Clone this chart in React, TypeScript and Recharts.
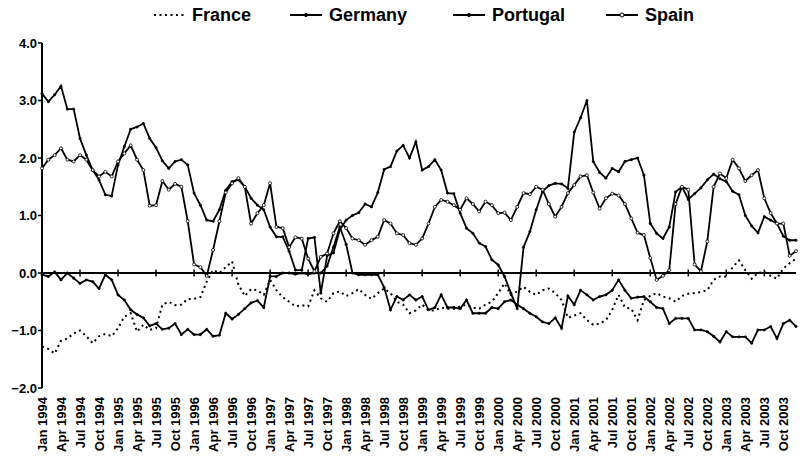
import React from 'react';
import { LineChart, Line, XAxis, YAxis, ReferenceLine, Legend } from 'recharts';

const MONTHS = ['Jan', 'Feb', 'Mar', 'Apr', 'May', 'Jun', 'Jul', 'Aug', 'Sep', 'Oct', 'Nov', 'Dec'];
const YEARS = [1994, 1995, 1996, 1997, 1998, 1999, 2000, 2001, 2002, 2003];
const Y_TICKS = [-2, -1, 0, 1, 2, 3, 4];
const SERIES_NAMES = ['France', 'Germany', 'Portugal', 'Spain'];
const LEGEND_ITEM_WIDTHS = [137, 163, 153, 100];

const france = [
  -1.28, -1.32, -1.4, -1.18, -1.14, -1.05, -1.0, -1.1, -1.22, -1.1, -1.06, -1.1,
  -0.96, -0.76, -0.7, -1.02, -0.9, -0.99, -0.96, -0.55, -0.5, -0.56, -0.55, -0.45,
  -0.45, -0.42, -0.15, 0.05, 0.0, 0.1, 0.2, -0.2, -0.4, -0.28, -0.3, -0.38,
  -0.12, -0.3, -0.42, -0.5, -0.58, -0.56, -0.58, -0.3, -0.44, -0.5, -0.35, -0.32,
  -0.4, -0.35, -0.28, -0.38, -0.45, -0.35, -0.27, -0.35, -0.5, -0.55, -0.7, -0.65,
  -0.55, -0.65, -0.65, -0.6, -0.62, -0.62, -0.58, -0.55, -0.6, -0.62, -0.55, -0.5,
  -0.35, -0.18, -0.38, -0.32, -0.24, -0.33, -0.38, -0.3, -0.27, -0.35, -0.47, -0.78,
  -0.74, -0.7, -0.82, -0.9, -0.88, -0.82, -0.64, -0.38, -0.6, -0.62, -0.82, -0.47,
  -0.4, -0.35, -0.41, -0.44, -0.5, -0.4, -0.36, -0.35, -0.33, -0.3, -0.12, -0.06,
  -0.06, 0.1, 0.22, 0.05, -0.1, 0.0, 0.02, -0.05, -0.1, 0.08, 0.17, 0.25,
];

const germany = [
  -0.03, -0.06, 0.02, -0.12, 0.0, -0.09, -0.18, -0.12, -0.15, -0.27, -0.03, -0.12,
  -0.38, -0.47, -0.64, -0.72, -0.78, -0.92, -0.88, -0.98, -0.96, -0.88, -1.07, -0.98,
  -1.07, -1.07, -0.98, -1.1, -1.08, -0.7, -0.8, -0.72, -0.62, -0.52, -0.48, -0.6,
  -0.06, -0.06, 0.0, 0.0, -0.02, 0.0, -0.02, 0.0, 0.0, 0.12, 0.45, 0.8,
  0.5, 0.0, -0.03, -0.03, -0.03, -0.03, -0.25, -0.64, -0.41, -0.47, -0.38, -0.47,
  -0.41, -0.64, -0.6, -0.38, -0.6, -0.6, -0.62, -0.47, -0.7, -0.7, -0.7, -0.6,
  -0.62, -0.5, -0.47, -0.55, -0.62, -0.7, -0.76, -0.85, -0.88, -0.78, -0.96, -0.4,
  -0.55, -0.3, -0.38, -0.47, -0.41, -0.38, -0.3, -0.12, -0.3, -0.44, -0.42, -0.41,
  -0.5, -0.6, -0.62, -0.88, -0.79, -0.79, -0.79, -0.99, -0.99, -1.02, -1.1, -1.2,
  -1.02, -1.11, -1.11, -1.11, -1.22, -0.99, -0.99, -0.93, -1.14, -0.88, -0.82, -0.93,
];

const portugal = [
  3.12, 2.98, 3.1, 3.25, 2.85, 2.85, 2.34, 2.05, 1.79, 1.62, 1.36, 1.34,
  1.88, 2.2, 2.5, 2.54, 2.6, 2.34, 2.18, 1.95, 1.82, 1.94, 1.97, 1.88,
  1.39, 1.18, 0.92, 0.9, 1.1, 1.44, 1.59, 1.62, 1.5, 1.3, 1.18, 1.1,
  0.8, 0.63, 0.63, 0.38, 0.05, 0.05, 0.6, 0.62, -0.35, 0.3, 0.35, 0.75,
  0.92, 1.0, 1.05, 1.2, 1.15, 1.4, 1.8, 1.85, 2.12, 2.22, 2.0, 2.28,
  1.79, 1.85, 1.97, 1.79, 1.39, 1.38, 1.04, 0.78, 0.69, 0.52, 0.46, 0.23,
  0.14, -0.06, -0.35, -0.62, 0.45, 0.72, 1.1, 1.42, 1.52, 1.56, 1.55, 1.47,
  2.45, 2.7, 3.0, 1.94, 1.75, 1.65, 1.82, 1.76, 1.94, 1.97, 2.0, 1.7,
  0.86, 0.69, 0.6, 0.8, 1.41, 1.5, 1.28, 1.38, 1.48, 1.62, 1.72, 1.64,
  1.59, 1.42, 1.36, 1.0, 0.82, 0.7, 0.98, 0.92, 0.86, 0.64, 0.57, 0.57,
];

const spain = [
  1.82, 1.97, 2.05, 2.17, 1.97, 1.94, 2.05, 1.97, 1.79, 1.68, 1.76, 1.68,
  1.94, 2.08, 2.22, 1.97, 1.79, 1.17, 1.18, 1.6, 1.45, 1.55, 1.5, 0.9,
  0.15, 0.1, -0.05, 0.4, 0.9, 1.4, 1.56, 1.65, 1.5, 0.86, 1.04, 1.18,
  1.56, 0.8, 0.78, 0.45, 0.62, 0.6, 0.25, 0.03, 0.28, 0.34, 0.69, 0.9,
  0.78, 0.6, 0.57, 0.49, 0.57, 0.63, 0.92, 0.86, 0.69, 0.66, 0.52, 0.49,
  0.6, 0.86, 1.15, 1.27, 1.24, 1.18, 1.1, 1.3, 1.2, 1.07, 1.24, 1.18,
  1.04, 1.05, 0.92, 1.15, 1.39, 1.37, 1.5, 1.45, 1.2, 0.98, 1.15, 1.39,
  1.53, 1.68, 1.7, 1.4, 1.12, 1.3, 1.38, 1.35, 1.2, 0.95, 0.7, 0.66,
  0.26, -0.12, -0.05, 0.05, 1.2, 1.5, 1.45, 0.15, 0.03, 0.55, 1.5, 1.73,
  1.65, 1.97, 1.82, 1.6, 1.7, 1.79, 1.3, 1.04, 0.86, 0.86, 0.3, 0.38,
];

const categories: string[] = [];
YEARS.forEach((y) => MONTHS.forEach((m) => categories.push(`${m} ${y}`)));

const data = categories.map((c, i) => ({
  month: c,
  France: france[i],
  Germany: germany[i],
  Portugal: portugal[i],
  Spain: spain[i],
}));

const halfYearMarks = categories.filter(
  (c, i) => i > 0 && (c.startsWith('Jan') || c.startsWith('Jul'))
);

const FONT = '"Liberation Sans", Arial, Helvetica, sans-serif';

const fmtY = (v: number) => (v < 0 ? '\u2212' + Math.abs(v).toFixed(1) : v.toFixed(1));

const RotTick = (props: any) => {
  const { x, y, payload } = props;
  return (
    <text
      transform={`translate(${x},${y + 1}) rotate(-90)`}
      textAnchor="end"
      dominantBaseline="central"
      fontSize={13}
      fontWeight="bold"
      fontFamily={FONT}
      fill="#000"
    >
      {payload.value}
    </text>
  );
};

const LegendSample = ({ name }: { name: string }) => {
  if (name === 'France') {
    return (
      <svg width={32} height={12}>
        <line x1={1} y1={6} x2={31} y2={6} stroke="#000" strokeWidth={2} strokeDasharray="2 3.5" />
      </svg>
    );
  }
  return (
    <svg width={32} height={12}>
      <line x1={0} y1={6} x2={32} y2={6} stroke="#000" strokeWidth={2} />
      <circle
        cx={16}
        cy={6}
        r={name === 'Spain' ? 2 : 1.6}
        fill={name === 'Spain' ? '#fff' : '#000'}
        stroke="#000"
        strokeWidth={1}
      />
    </svg>
  );
};

const LegendContent = () => (
  <div
    style={{
      height: 43,
      width: 801,
      display: 'flex',
      alignItems: 'flex-start',
      paddingLeft: 153,
      paddingTop: 4,
      boxSizing: 'border-box',
      fontFamily: FONT,
      fontSize: 18,
      fontWeight: 'bold',
      color: '#000',
    }}
  >
    {SERIES_NAMES.map((n, idx) => (
      <div
        key={n}
        style={{
          display: 'flex',
          alignItems: 'center',
          width: LEGEND_ITEM_WIDTHS[idx],
          flex: 'none',
          lineHeight: '22px',
          whiteSpace: 'nowrap',
        }}
      >
        <LegendSample name={n} />
        <span style={{ marginLeft: 7 }}>{n}</span>
      </div>
    ))}
  </div>
);

export default function App() {
  return (
    <div style={{ position: 'absolute', left: 0, top: 0, background: '#fff' }}>
      <LineChart
        width={801}
        height={460}
        data={data}
        margin={{ top: 0, right: 5, bottom: 2, left: 0 }}
      >
        <Legend
          verticalAlign="top"
          align="left"
          content={<LegendContent />}
          wrapperStyle={{ left: 0, top: 0, width: 801, height: 43 }}
        />
        <XAxis
          dataKey="month"
          interval={2}
          tick={(p: any) => <RotTick {...p} />}
          tickLine={false}
          axisLine={false}
          tickSize={6}
          tickMargin={2}
          height={70}
        />
        <YAxis
          domain={[-2, 4]}
          ticks={Y_TICKS}
          interval={0}
          tickFormatter={fmtY}
          width={42}
          tickSize={4}
          tickMargin={1}
          axisLine={{ stroke: '#000', strokeWidth: 2 }}
          tickLine={{ stroke: '#000', strokeWidth: 1.5 }}
          tick={{ fill: '#000', fontSize: 13, fontWeight: 'bold', fontFamily: FONT }}
        />
        <ReferenceLine y={0} stroke="#000" strokeWidth={2} />
        {halfYearMarks.map((c) => (
          <ReferenceLine
            key={c}
            segment={[
              { x: c, y: -0.06 },
              { x: c, y: 0.06 },
            ]}
            stroke="#000"
            strokeWidth={1.5}
          />
        ))}
        <Line
          type="linear"
          dataKey="France"
          stroke="#000"
          strokeWidth={2}
          strokeDasharray="2 3.5"
          dot={false}
          isAnimationActive={false}
        />
        <Line
          type="linear"
          dataKey="Germany"
          stroke="#000"
          strokeWidth={1.8}
          dot={{ r: 1.2, fill: '#000', stroke: '#000', strokeWidth: 0.5 }}
          isAnimationActive={false}
        />
        <Line
          type="linear"
          dataKey="Portugal"
          stroke="#000"
          strokeWidth={1.8}
          dot={{ r: 1.2, fill: '#000', stroke: '#000', strokeWidth: 0.5 }}
          isAnimationActive={false}
        />
        <Line
          type="linear"
          dataKey="Spain"
          stroke="#000"
          strokeWidth={1.8}
          dot={{ r: 1.5, fill: '#fff', stroke: '#000', strokeWidth: 0.8 }}
          isAnimationActive={false}
        />
      </LineChart>
    </div>
  );
}
